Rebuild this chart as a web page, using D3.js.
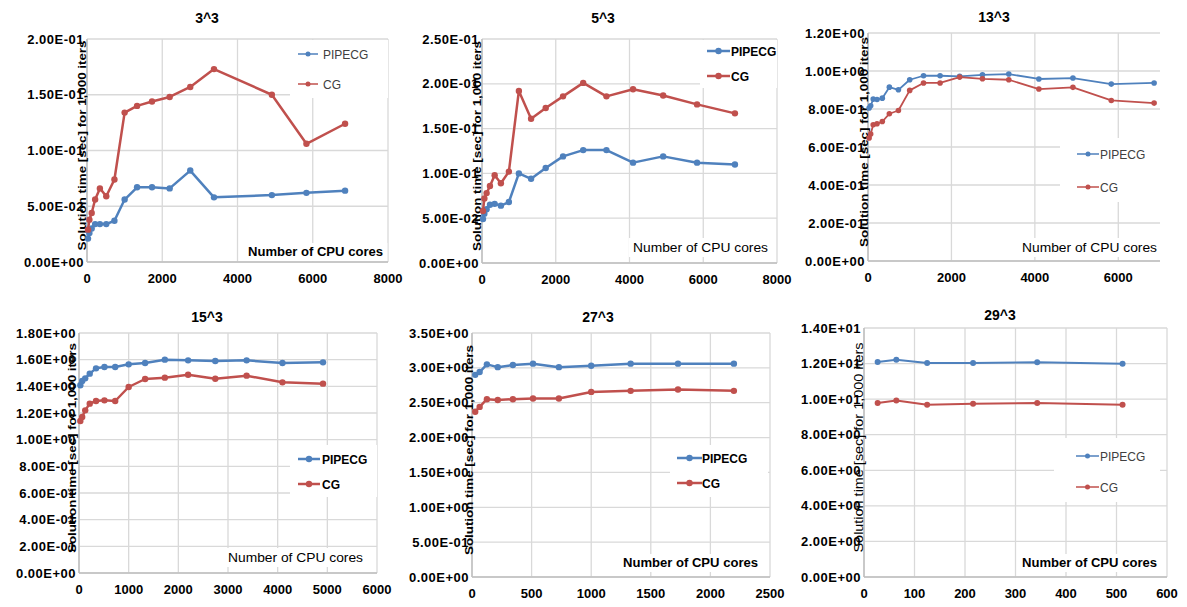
<!DOCTYPE html>
<html>
<head>
<meta charset="utf-8">
<script src="https://cdnjs.cloudflare.com/ajax/libs/d3/7.8.5/d3.min.js"></script>
<style>
body{margin:0;background:#fff}
text{font-family:"Liberation Sans",Arial,sans-serif}
</style>
</head>
<body>
<svg id="chart" width="1187" height="607"></svg>
<script>
// ---- data ----
var seriesNames = ["PIPECG", "CG"];
var panelTitles = ["3^3", "5^3", "13^3", "15^3", "27^3", "29^3"];
var xTitle = "Number of CPU cores";
var yTitle = "Solution time [sec] for 1,000 iters";

var cores3  = [27,64,125,216,343,512,729,1000,1331,1728,2197,2744,3375,4913,5832,6859];
var pipe3   = [0.021,0.026,0.030,0.034,0.034,0.034,0.037,0.056,0.067,0.067,0.066,0.082,0.058,0.060,0.062,0.064];
var cg3     = [0.029,0.038,0.044,0.056,0.066,0.059,0.074,0.134,0.140,0.144,0.148,0.157,0.173,0.150,0.106,0.124];

var cores5  = [27,64,125,216,343,512,729,1000,1331,1728,2197,2744,3375,4096,4913,5832,6859];
var pipe5   = [0.049,0.055,0.060,0.065,0.066,0.064,0.068,0.100,0.094,0.106,0.119,0.126,0.126,0.112,0.119,0.112,0.110];
var cg5     = [0.058,0.072,0.078,0.086,0.098,0.089,0.102,0.192,0.161,0.173,0.186,0.201,0.186,0.194,0.187,0.177,0.167];

var cores13 = [27,64,125,216,343,512,729,1000,1331,1728,2197,2744,3375,4096,4913,5832,6859];
var pipe13  = [0.805,0.817,0.852,0.850,0.857,0.915,0.901,0.954,0.975,0.975,0.972,0.980,0.984,0.958,0.963,0.931,0.937];
var cg13    = [0.647,0.668,0.717,0.722,0.734,0.775,0.792,0.898,0.937,0.937,0.968,0.959,0.954,0.905,0.914,0.845,0.831];

var cores15 = [27,64,125,216,343,512,729,1000,1331,1728,2197,2744,3375,4096,4913];
var pipe15  = [1.408,1.44,1.46,1.495,1.535,1.545,1.545,1.565,1.575,1.60,1.595,1.59,1.595,1.575,1.58];
var cg15    = [1.14,1.17,1.22,1.27,1.29,1.295,1.29,1.395,1.455,1.465,1.487,1.457,1.48,1.43,1.42];

var cores27 = [27,64,125,216,343,512,729,1000,1331,1728,2197];
var pipe27  = [2.90,2.94,3.05,3.01,3.04,3.06,3.01,3.03,3.06,3.06,3.06];
var cg27    = [2.37,2.44,2.55,2.54,2.55,2.56,2.56,2.655,2.67,2.69,2.67];

var cores29 = [27,64,125,216,343,512];
var pipe29  = [12.09,12.22,12.03,12.03,12.07,11.99];
var cg29    = [9.78,9.93,9.69,9.74,9.78,9.69];

var colors = ["#4F81BD", "#C0504D"];

// ---- layout of each panel ----
var panels = [
  {title:panelTitles[0], cores:cores3, vals:[pipe3,cg3], l:87, r:388, t:39, b:262, xMax:8000, xStep:2000, yMax:0.2, yStep:0.05,
   tx:207, ty:23, yTx:82, yTbold:true, xLab:{r:383, y:252, bold:true},
   leg:{x1:298, x2:318, y:[54,84], tx:323, bold:false, box:[290,40,98,58]}, lw:2.5, mr:3.2},
  {title:panelTitles[1], cores:cores5, vals:[pipe5,cg5], l:482, r:777, t:39, b:263, xMax:8000, xStep:2000, yMax:0.25, yStep:0.05,
   tx:603, ty:23, yTx:477, yTbold:true, xLab:{r:768, y:248, bold:false},
   leg:{x1:707, x2:730, y:[51,76], tx:731, bold:true, box:[700,40,77,48]}, lw:2.5, mr:3.2},
  {title:panelTitles[2], cores:cores13, vals:[pipe13,cg13], l:868, r:1160, t:33, b:261, xMax:7000, xStep:2000, yMax:1.2, yStep:0.2,
   tx:994, ty:22, yTx:864, yTbold:true, xLab:{r:1157, y:248, bold:false},
   leg:{x1:1077, x2:1099, y:[154,187], tx:1100, bold:false, box:[1060,138,105,64]}, lw:1.8, mr:2.8},
  {title:panelTitles[3], cores:cores15, vals:[pipe15,cg15], l:79, r:377, t:333, b:573, xMax:6000, xStep:1000, yMax:1.8, yStep:0.2,
   tx:207, ty:322, yTx:72, yTbold:true, xLab:{r:363, y:558, bold:false},
   leg:{x1:298, x2:320, y:[459,484], tx:322, bold:true, box:[290,445,87,52]}, lw:2.5, mr:3.2},
  {title:panelTitles[4], cores:cores27, vals:[pipe27,cg27], l:472, r:770, t:333, b:577, xMax:2500, xStep:500, yMax:3.5, yStep:0.5,
   tx:598, ty:322, yTx:469, yTbold:true, xLab:{r:758, y:563, bold:true},
   leg:{x1:677, x2:702, y:[458,483], tx:702, bold:true, box:[670,445,98,52]}, lw:2.5, mr:3.2},
  {title:panelTitles[5], cores:cores29, vals:[pipe29,cg29], l:864, r:1167, t:328, b:577, xMax:600, xStep:100, yMax:14, yStep:2,
   tx:1000, ty:320, yTx:859, yTbold:false, xLab:{r:1157, y:563, bold:true},
   leg:{x1:1076, x2:1099, y:[456,487], tx:1100, bold:false, box:[1054,438,106,64]}, lw:2, mr:3}
];

function fmtE(v){
  if(v === 0) return "0.00E+00";
  var e = Math.floor(Math.log10(Math.abs(v)) + 1e-9);
  var m = v / Math.pow(10, e);
  if(+m.toFixed(2) >= 10){ m = m/10; e += 1; }
  var es = (e < 0 ? "-" : "+") + (Math.abs(e) < 10 ? "0" : "") + Math.abs(e);
  return m.toFixed(2) + "E" + es;
}

var svg = d3.select("#chart");
svg.append("rect").attr("width",1187).attr("height",607).attr("fill","#fff");

panels.forEach(function(p){
  var g = svg.append("g");
  var x = d3.scaleLinear().domain([0,p.xMax]).range([p.l,p.r]);
  var y = d3.scaleLinear().domain([0,p.yMax]).range([p.b,p.t]);
  var xt = d3.range(0, p.xMax + p.xStep/2, p.xStep);
  var yt = d3.range(0, p.yMax + p.yStep/2, p.yStep).map(function(v){ return +v.toFixed(6); });

  // gridlines
  g.selectAll("line.vg").data(xt).enter().append("line")
    .attr("x1", function(d){ return x(d); }).attr("x2", function(d){ return x(d); })
    .attr("y1", p.t).attr("y2", p.b)
    .attr("stroke","#d9d9d9").attr("stroke-width",1.3);
  g.selectAll("line.hg").data(yt).enter().append("line")
    .attr("x1", p.l).attr("x2", p.r)
    .attr("y1", function(d){ return y(d); }).attr("y2", function(d){ return y(d); })
    .attr("stroke","#d9d9d9").attr("stroke-width",1.3);
  g.append("line").attr("x1",p.l).attr("x2",p.r).attr("y1",p.b).attr("y2",p.b)
    .attr("stroke","#bfbfbf").attr("stroke-width",1.5);
  g.append("line").attr("x1",p.l).attr("x2",p.l).attr("y1",p.t).attr("y2",p.b)
    .attr("stroke","#bfbfbf").attr("stroke-width",1.5);

  // tick labels
  g.selectAll("text.xl").data(xt).enter().append("text")
    .attr("x", function(d){ return x(d); }).attr("y", p.b + 21)
    .attr("text-anchor","middle").attr("font-size",13).attr("font-weight","bold")
    .text(function(d){ return d; });
  g.selectAll("text.yl").data(yt).enter().append("text")
    .attr("x", p.l - 3).attr("y", function(d){ return y(d) + 4.5; })
    .attr("text-anchor","end").attr("font-size",13).attr("font-weight","bold")
    .attr("letter-spacing", 0.5)
    .text(function(d){ return fmtE(d); });

  // title
  g.append("text").attr("x",p.tx).attr("y",p.ty).attr("text-anchor","middle")
    .attr("font-size",14).attr("font-weight","bold").text(p.title);

  // y axis title
  g.append("text")
    .attr("transform","translate(" + (p.yTx + 4) + "," + ((p.t + p.b)/2 - 5) + ") rotate(-90)")
    .attr("text-anchor","middle")
    .attr("font-size", p.yTbold ? 11 : 12)
    .attr("font-weight", p.yTbold ? "bold" : "normal")
    .attr("textLength", 210).attr("lengthAdjust","spacingAndGlyphs")
    .text(yTitle);

  // legend + x title boxes
  g.append("rect").attr("x",p.leg.box[0]).attr("y",p.leg.box[1])
    .attr("width",p.leg.box[2]).attr("height",p.leg.box[3]).attr("fill","#fff");
  var xl = g.append("text").attr("x",p.xLab.r).attr("y",p.xLab.y + 4)
    .attr("text-anchor","end").attr("font-size",p.xLab.bold ? 12 : 13)
    .attr("font-weight",p.xLab.bold ? "bold" : "normal")
    .attr("textLength",135).attr("lengthAdjust","spacingAndGlyphs")
    .text(xTitle);
  var bb = xl.node().getBBox();
  g.insert("rect", function(){ return xl.node(); })
    .attr("x",bb.x - 4).attr("y",bb.y - 2).attr("width",bb.width + 8).attr("height",bb.height + 4)
    .attr("fill","#fff");

  // series
  var line = d3.line().x(function(d){ return x(d[0]); }).y(function(d){ return y(d[1]); });
  p.vals.forEach(function(vs, si){
    var pts = p.cores.map(function(c, i){ return [c, vs[i]]; });
    g.append("path").datum(pts).attr("d", line)
      .attr("fill","none").attr("stroke",colors[si]).attr("stroke-width",p.lw)
      .attr("stroke-linejoin","round");
    g.selectAll(null).data(pts).enter().append("circle")
      .attr("cx", function(d){ return x(d[0]); }).attr("cy", function(d){ return y(d[1]); })
      .attr("r", p.mr).attr("fill",colors[si]);

    // legend entry
    var ly = p.leg.y[si];
    g.append("line").attr("x1",p.leg.x1).attr("x2",p.leg.x2).attr("y1",ly).attr("y2",ly)
      .attr("stroke",colors[si]).attr("stroke-width",p.leg.bold ? p.lw : 1.5);
    g.append("circle").attr("cx",(p.leg.x1 + p.leg.x2)/2).attr("cy",ly)
      .attr("r",p.leg.bold ? 3.2 : 2.5).attr("fill",colors[si]);
    g.append("text").attr("x",p.leg.tx).attr("y",ly + 4.5)
      .attr("font-size",12).attr("font-weight",p.leg.bold ? "bold" : "normal")
      .attr("fill", p.leg.bold ? "#000" : "#404040")
      .text(seriesNames[si]);
  });
});
</script>
</body>
</html>
